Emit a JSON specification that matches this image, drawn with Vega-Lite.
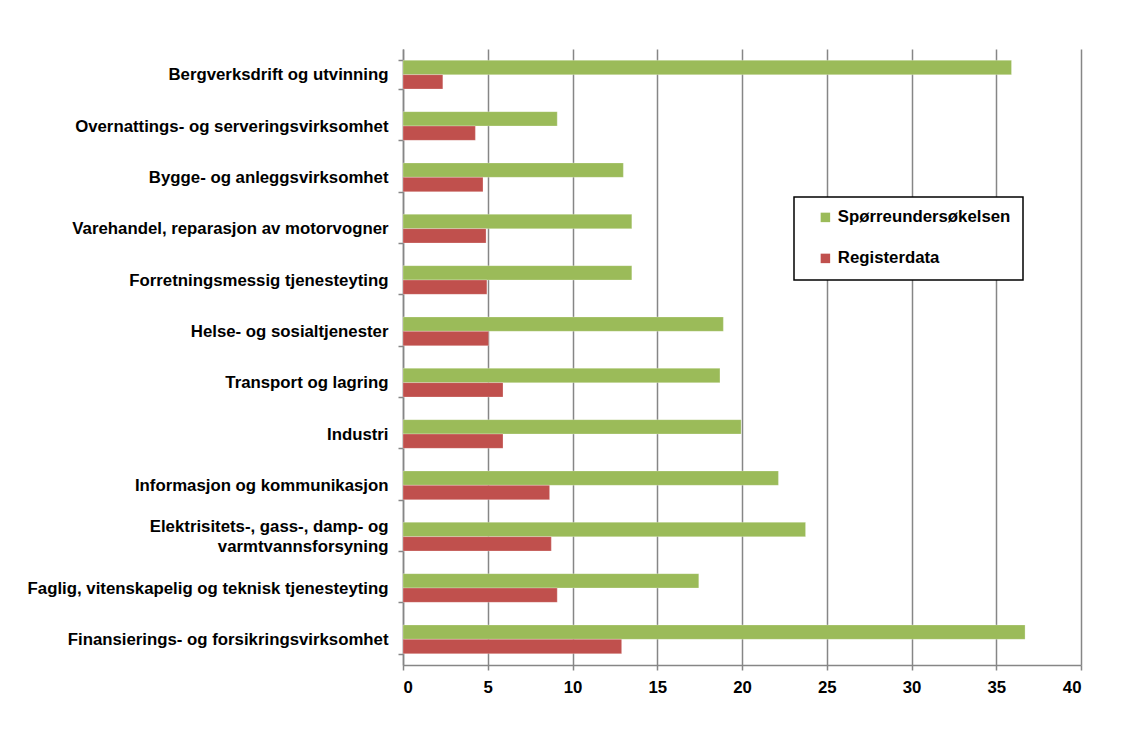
{
  "$schema": "https://vega.github.io/schema/vega-lite/v6.json",
  "autosize": {"type": "none"},
  "padding": {"left": 403, "top": 49, "right": 44, "bottom": 79},
  "width": 678,
  "height": 616,
  "background": "white",
  "data": {
    "values": [
      {"naering": "Bergverksdrift og utvinning", "kilde": "Spørreundersøkelsen", "andel": 35.9},
      {"naering": "Bergverksdrift og utvinning", "kilde": "Registerdata", "andel": 2.35},
      {"naering": "Overnattings- og serveringsvirksomhet", "kilde": "Spørreundersøkelsen", "andel": 9.1},
      {"naering": "Overnattings- og serveringsvirksomhet", "kilde": "Registerdata", "andel": 4.27},
      {"naering": "Bygge- og anleggsvirksomhet", "kilde": "Spørreundersøkelsen", "andel": 13.0},
      {"naering": "Bygge- og anleggsvirksomhet", "kilde": "Registerdata", "andel": 4.72},
      {"naering": "Varehandel, reparasjon av motorvogner", "kilde": "Spørreundersøkelsen", "andel": 13.5},
      {"naering": "Varehandel, reparasjon av motorvogner", "kilde": "Registerdata", "andel": 4.9},
      {"naering": "Forretningsmessig tjenesteyting", "kilde": "Spørreundersøkelsen", "andel": 13.5},
      {"naering": "Forretningsmessig tjenesteyting", "kilde": "Registerdata", "andel": 4.95},
      {"naering": "Helse- og sosialtjenester", "kilde": "Spørreundersøkelsen", "andel": 18.9},
      {"naering": "Helse- og sosialtjenester", "kilde": "Registerdata", "andel": 5.05},
      {"naering": "Transport og lagring", "kilde": "Spørreundersøkelsen", "andel": 18.7},
      {"naering": "Transport og lagring", "kilde": "Registerdata", "andel": 5.9},
      {"naering": "Industri", "kilde": "Spørreundersøkelsen", "andel": 19.95},
      {"naering": "Industri", "kilde": "Registerdata", "andel": 5.9},
      {"naering": "Informasjon og kommunikasjon", "kilde": "Spørreundersøkelsen", "andel": 22.15},
      {"naering": "Informasjon og kommunikasjon", "kilde": "Registerdata", "andel": 8.65},
      {"naering": "Elektrisitets-, gass-, damp- og varmtvannsforsyning", "kilde": "Spørreundersøkelsen", "andel": 23.75},
      {"naering": "Elektrisitets-, gass-, damp- og varmtvannsforsyning", "kilde": "Registerdata", "andel": 8.75},
      {"naering": "Faglig, vitenskapelig og teknisk tjenesteyting", "kilde": "Spørreundersøkelsen", "andel": 17.45},
      {"naering": "Faglig, vitenskapelig og teknisk tjenesteyting", "kilde": "Registerdata", "andel": 9.1},
      {"naering": "Finansierings- og forsikringsvirksomhet", "kilde": "Spørreundersøkelsen", "andel": 36.7},
      {"naering": "Finansierings- og forsikringsvirksomhet", "kilde": "Registerdata", "andel": 12.9}
    ]
  },
  "mark": {"type": "bar", "stroke": "white", "strokeOpacity": 0.5, "strokeWidth": 0.5},
  "encoding": {
    "y": {
      "field": "naering",
      "type": "nominal",
      "sort": null,
      "scale": {"paddingInner": 0.44, "paddingOuter": 0.22},
      "axis": {
        "title": null,
        "labelExpr": "datum.value == 'Elektrisitets-, gass-, damp- og varmtvannsforsyning' ? ['Elektrisitets-, gass-, damp- og', 'varmtvannsforsyning\u2002\u2002\u2002\u2002'] : datum.value",
        "labelOffset": {
          "condition": {"test": "datum.value == 'Elektrisitets-, gass-, damp- og varmtvannsforsyning'", "value": -10},
          "value": 0
        },
        "labelFont": "Liberation Sans",
        "labelFontWeight": "bold",
        "labelFontSize": 16.8,
        "labelColor": "#000000",
        "labelLimit": 420,
        "labelPadding": 10,
        "labelLineHeight": 20,
        "tickBand": "extent",
        "tickSize": 5,
        "tickColor": "#868686",
        "tickWidth": 1.5,
        "domainColor": "#868686",
        "domainWidth": 1.5,
        "grid": false
      }
    },
    "yOffset": {
      "field": "kilde",
      "type": "nominal",
      "sort": ["Spørreundersøkelsen", "Registerdata"],
      "scale": {"paddingInner": 0, "paddingOuter": 0}
    },
    "x": {
      "field": "andel",
      "type": "quantitative",
      "scale": {"domain": [0, 40], "nice": false},
      "axis": {
        "title": null,
        "values": [0, 5, 10, 15, 20, 25, 30, 35, 40],
        "labelFont": "Liberation Sans",
        "labelFontWeight": "bold",
        "labelFontSize": 16.8,
        "labelColor": "#000000",
        "labelPadding": 9,
        "tickSize": 5,
        "tickColor": "#868686",
        "tickWidth": 1.5,
        "domainColor": "#868686",
        "domainWidth": 1.5,
        "grid": true,
        "gridColor": "#868686",
        "gridWidth": 1.5
      }
    },
    "color": {
      "field": "kilde",
      "type": "nominal",
      "sort": ["Spørreundersøkelsen", "Registerdata"],
      "scale": {"domain": ["Spørreundersøkelsen", "Registerdata"], "range": ["#9BBB59", "#C0504D"]},
      "legend": {
        "title": null,
        "orient": "none",
        "legendX": 391,
        "legendY": 148,
        "direction": "vertical",
        "fillColor": "white",
        "strokeColor": "#000000",
        "padding": 12,
        "symbolType": "square",
        "symbolSize": 90,
        "symbolStrokeWidth": 0,
        "symbolOffset": 11,
        "rowPadding": 23,
        "labelFont": "Liberation Sans",
        "labelFontWeight": "bold",
        "labelFontSize": 16.8,
        "labelColor": "#000000",
        "labelLimit": 300,
        "labelOffset": 4
      }
    }
  },
  "config": {
    "view": {"stroke": null},
    "legend": {"strokeWidth": 1.5}
  }
}
